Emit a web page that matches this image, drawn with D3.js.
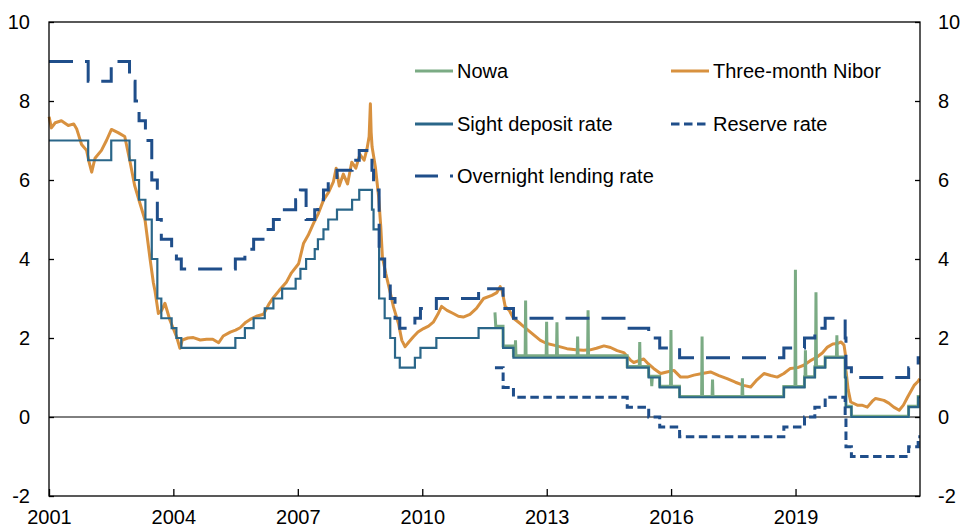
<!DOCTYPE html>
<html>
<head>
<meta charset="utf-8">
<title>Norwegian money market rates</title>
<style>
body { margin: 0; background: #fff; }
svg { display: block; }
text { font-family: "Liberation Sans", Arial, sans-serif; fill: #000; }
</style>
<script src="https://cdn.jsdelivr.net/npm/d3@7"></script>
</head>
<body>
<svg id="chart" width="961" height="528"></svg>
<script>
// policy rate corridor (step changes)
var sightDeposit = [
	["2001-01-01", 7.0], ["2001-12-12", 6.5], ["2002-07-03", 7.0], ["2002-12-11", 6.5],
	["2003-01-29", 6.0], ["2003-03-05", 5.5], ["2003-04-30", 5.0], ["2003-06-25", 4.0],
	["2003-08-13", 3.0], ["2003-09-17", 2.5], ["2003-12-17", 2.25], ["2004-01-28", 2.0],
	["2004-03-11", 1.75], ["2005-06-30", 2.0], ["2005-09-22", 2.25], ["2005-12-08", 2.5],
	["2006-03-16", 2.75], ["2006-05-31", 3.0], ["2006-08-16", 3.25], ["2006-12-13", 3.5],
	["2007-01-24", 3.75], ["2007-03-15", 4.0], ["2007-05-30", 4.25], ["2007-06-27", 4.5],
	["2007-08-15", 4.75], ["2007-09-26", 5.0], ["2007-12-12", 5.25], ["2008-04-23", 5.5],
	["2008-06-25", 5.75], ["2008-10-15", 5.25], ["2008-10-29", 4.75], ["2008-12-17", 3.0],
	["2009-02-04", 2.5], ["2009-03-25", 2.0], ["2009-05-06", 1.5], ["2009-06-17", 1.25],
	["2009-10-28", 1.5], ["2009-12-16", 1.75], ["2010-05-05", 2.0], ["2011-05-12", 2.25],
	["2011-12-14", 1.75], ["2012-03-14", 1.5], ["2014-12-11", 1.25], ["2015-06-18", 1.0],
	["2015-09-23", 0.75], ["2016-03-16", 0.5], ["2018-09-20", 0.75], ["2019-03-21", 1.0],
	["2019-06-20", 1.25], ["2019-09-19", 1.5], ["2020-03-13", 1.0], ["2020-03-20", 0.25],
	["2020-05-07", 0.0], ["2021-09-23", 0.25], ["2021-12-16", 0.5], ["2021-12-31", 0.5]
];

var overnightLending = [
	["2001-01-01", 9.0], ["2001-12-12", 8.5], ["2002-07-03", 9.0], ["2002-12-11", 8.5],
	["2003-01-29", 8.0], ["2003-03-05", 7.5], ["2003-04-30", 7.0], ["2003-06-25", 6.0],
	["2003-08-13", 5.0], ["2003-09-17", 4.5], ["2003-12-17", 4.25], ["2004-01-28", 4.0],
	["2004-03-11", 3.75], ["2005-06-30", 4.0], ["2005-09-22", 4.25], ["2005-12-08", 4.5],
	["2006-03-16", 4.75], ["2006-05-31", 5.0], ["2006-08-16", 5.25], ["2006-12-13", 5.5],
	["2007-01-24", 5.75], ["2007-03-15", 5.0], ["2007-05-30", 5.25], ["2007-06-27", 5.5],
	["2007-08-15", 5.75], ["2007-09-26", 6.0], ["2007-12-12", 6.25], ["2008-04-23", 6.5],
	["2008-06-25", 6.75], ["2008-10-15", 6.25], ["2008-10-29", 5.75], ["2008-12-17", 4.0],
	["2009-02-04", 3.5], ["2009-03-25", 3.0], ["2009-05-06", 2.5], ["2009-06-17", 2.25],
	["2009-10-28", 2.5], ["2009-12-16", 2.75], ["2010-05-05", 3.0], ["2011-05-12", 3.25],
	["2011-12-14", 2.75], ["2012-03-14", 2.5], ["2014-12-11", 2.25], ["2015-06-18", 2.0],
	["2015-09-23", 1.75], ["2016-03-16", 1.5], ["2018-09-20", 1.75], ["2019-03-21", 2.0],
	["2019-06-20", 2.25], ["2019-09-19", 2.5], ["2020-03-13", 2.0], ["2020-03-20", 1.25],
	["2020-05-07", 1.0], ["2021-09-23", 1.25], ["2021-12-16", 1.5], ["2021-12-31", 1.5]
];

var reserveRate = [
	["2011-10-03", 1.25], ["2011-12-14", 0.75], ["2012-03-14", 0.5], ["2014-12-11", 0.25],
	["2015-06-18", 0.0], ["2015-09-23", -0.25], ["2016-03-16", -0.5], ["2018-09-20", -0.25],
	["2019-03-21", 0.0], ["2019-06-20", 0.25], ["2019-09-19", 0.5], ["2020-03-13", 0.0],
	["2020-03-20", -0.75], ["2020-05-07", -1.0], ["2021-09-23", -0.75], ["2021-12-16", -0.5],
	["2021-12-31", -0.5]
];

// three-month Nibor
var nibor = [
	["2001-01-02", 7.6], ["2001-01-22", 7.32], ["2001-02-25", 7.45], ["2001-04-20", 7.5],
	["2001-06-20", 7.38], ["2001-08-07", 7.42], ["2001-09-01", 7.3], ["2001-10-15", 6.9],
	["2001-11-28", 6.75], ["2001-12-20", 6.45], ["2002-01-12", 6.2], ["2002-02-10", 6.55],
	["2002-04-08", 6.75], ["2002-05-22", 7.0], ["2002-07-05", 7.28], ["2002-09-01", 7.2],
	["2002-10-30", 7.1], ["2002-12-13", 6.5], ["2003-01-26", 5.85], ["2003-03-14", 5.4],
	["2003-04-27", 4.98], ["2003-06-10", 4.0], ["2003-07-09", 3.4], ["2003-07-23", 3.2],
	["2003-08-22", 2.62], ["2003-09-20", 2.7], ["2003-10-19", 2.88], ["2003-12-02", 2.45],
	["2004-01-30", 2.03], ["2004-02-28", 1.74], ["2004-03-20", 1.95], ["2004-05-08", 2.0],
	["2004-06-25", 2.01], ["2004-08-25", 1.95], ["2004-10-20", 1.97], ["2004-12-13", 1.97],
	["2005-02-03", 1.88], ["2005-03-15", 2.05], ["2005-05-16", 2.15], ["2005-07-02", 2.2],
	["2005-08-11", 2.26], ["2005-10-01", 2.4], ["2005-11-07", 2.47], ["2006-01-01", 2.55],
	["2006-03-05", 2.6], ["2006-04-20", 2.85], ["2006-05-30", 3.02], ["2006-07-20", 3.2],
	["2006-09-24", 3.42], ["2006-11-06", 3.65], ["2007-01-08", 3.88], ["2007-02-21", 4.4],
	["2007-04-02", 4.6], ["2007-05-19", 4.9], ["2007-07-01", 5.15], ["2007-08-15", 5.49],
	["2007-10-01", 5.7], ["2007-11-10", 5.95], ["2007-12-05", 6.3], ["2008-01-01", 5.85],
	["2008-02-06", 6.15], ["2008-03-14", 5.9], ["2008-04-20", 6.45], ["2008-05-26", 6.3],
	["2008-07-01", 6.65], ["2008-08-07", 6.5], ["2008-09-02", 6.8], ["2008-09-20", 7.1],
	["2008-10-01", 7.93], ["2008-10-08", 7.2], ["2008-10-16", 6.84], ["2008-11-14", 6.33],
	["2008-12-13", 5.57], ["2009-01-01", 4.8], ["2009-01-15", 4.05], ["2009-02-14", 3.63],
	["2009-03-25", 3.15], ["2009-04-23", 2.78], ["2009-06-06", 2.36], ["2009-07-05", 1.94],
	["2009-08-03", 1.78], ["2009-09-05", 1.9], ["2009-10-15", 2.03], ["2009-11-24", 2.15],
	["2010-01-12", 2.24], ["2010-02-25", 2.3], ["2010-04-08", 2.4], ["2010-05-18", 2.6],
	["2010-06-20", 2.8], ["2010-08-07", 2.7], ["2010-10-01", 2.62], ["2010-11-15", 2.55],
	["2010-12-28", 2.53], ["2011-02-25", 2.6], ["2011-04-23", 2.75], ["2011-06-25", 3.0],
	["2011-09-06", 3.08], ["2011-10-20", 3.15], ["2011-11-18", 3.3], ["2011-12-05", 3.2],
	["2012-01-01", 2.8], ["2012-02-06", 2.7], ["2012-03-14", 2.5], ["2012-05-15", 2.36],
	["2012-08-10", 2.15], ["2012-11-06", 1.94], ["2013-01-01", 1.86], ["2013-03-04", 1.82],
	["2013-06-28", 1.73], ["2013-09-13", 1.7], ["2013-11-21", 1.69], ["2014-01-19", 1.7],
	["2014-03-15", 1.74], ["2014-05-20", 1.8], ["2014-07-17", 1.76], ["2014-09-13", 1.68],
	["2014-11-10", 1.63], ["2015-01-08", 1.44], ["2015-02-06", 1.38], ["2015-05-05", 1.47],
	["2015-06-13", 1.35], ["2015-07-31", 1.23], ["2015-10-01", 1.1], ["2015-11-24", 1.14],
	["2016-01-26", 1.18], ["2016-03-25", 1.01], ["2016-05-23", 1.01], ["2016-07-20", 1.06],
	["2016-10-01", 1.1], ["2016-12-13", 1.14], ["2017-02-25", 1.05], ["2017-05-08", 0.97],
	["2017-07-20", 0.88], ["2017-10-01", 0.8], ["2017-12-02", 0.76], ["2018-01-19", 0.92],
	["2018-03-29", 1.1], ["2018-05-27", 1.05], ["2018-07-24", 1.01], ["2018-09-20", 1.1],
	["2018-11-17", 1.23], ["2019-01-19", 1.25], ["2019-03-14", 1.31], ["2019-05-08", 1.42],
	["2019-07-09", 1.52], ["2019-08-25", 1.62], ["2019-10-09", 1.77], ["2019-11-25", 1.85],
	["2020-01-04", 1.86], ["2020-02-06", 1.9], ["2020-03-03", 1.82], ["2020-03-14", 1.6],
	["2020-03-20", 1.18], ["2020-04-08", 0.7], ["2020-05-01", 0.38], ["2020-06-28", 0.3],
	["2020-08-07", 0.3], ["2020-09-24", 0.25], ["2020-11-07", 0.4], ["2020-12-06", 0.47],
	["2021-02-17", 0.42], ["2021-04-01", 0.35], ["2021-05-15", 0.25], ["2021-07-02", 0.17],
	["2021-08-08", 0.3], ["2021-09-13", 0.5], ["2021-11-10", 0.8], ["2021-12-14", 0.9],
	["2021-12-29", 0.97]
];

// Nowa (spikes included)
var nowa = [
	["2011-10-03", 2.65], ["2011-10-10", 2.3], ["2011-12-13", 2.3], ["2011-12-14", 1.8],
	["2012-03-13", 1.8], ["2012-03-14", 1.55], ["2012-03-28", 1.55], ["2012-04-01", 1.94],
	["2012-04-05", 1.55], ["2012-06-25", 1.55], ["2012-06-29", 2.95], ["2012-07-03", 1.55],
	["2012-12-27", 1.55], ["2012-12-31", 2.41], ["2013-01-04", 1.55], ["2013-03-28", 1.55],
	["2013-04-01", 2.4], ["2013-04-05", 1.55], ["2013-09-26", 1.55], ["2013-09-30", 2.04],
	["2013-10-04", 1.55], ["2013-12-27", 1.55], ["2013-12-31", 2.7], ["2014-01-04", 1.55],
	["2014-12-10", 1.55], ["2014-12-11", 1.28], ["2015-03-27", 1.28], ["2015-03-31", 1.9],
	["2015-04-04", 1.28], ["2015-06-17", 1.28], ["2015-06-18", 1.03], ["2015-07-10", 1.03],
	["2015-07-15", 0.78], ["2015-07-20", 1.03], ["2015-09-22", 1.03], ["2015-09-23", 0.78],
	["2015-12-27", 0.78], ["2015-12-31", 2.2], ["2016-01-04", 0.78], ["2016-03-15", 0.78],
	["2016-03-16", 0.52], ["2016-09-26", 0.52], ["2016-09-30", 2.04], ["2016-10-04", 0.52],
	["2016-12-27", 0.52], ["2016-12-31", 0.95], ["2017-01-04", 0.52], ["2017-09-16", 0.52],
	["2017-09-20", 0.98], ["2017-09-24", 0.52], ["2018-09-19", 0.52], ["2018-09-20", 0.77],
	["2018-12-27", 0.77], ["2018-12-31", 3.73], ["2019-01-04", 0.77], ["2019-03-20", 0.77],
	["2019-03-21", 1.02], ["2019-03-26", 1.02], ["2019-03-29", 1.69], ["2019-04-02", 1.02],
	["2019-06-19", 1.02], ["2019-06-20", 1.27], ["2019-06-26", 1.27], ["2019-06-30", 3.16],
	["2019-07-04", 1.27], ["2019-09-18", 1.27], ["2019-09-19", 1.52], ["2019-12-27", 1.52],
	["2019-12-31", 2.07], ["2020-01-04", 1.52], ["2020-03-12", 1.52], ["2020-03-13", 1.02],
	["2020-03-19", 1.02], ["2020-03-20", 0.27], ["2020-05-06", 0.27], ["2020-05-07", 0.02],
	["2021-09-22", 0.02], ["2021-09-23", 0.27], ["2021-12-15", 0.27], ["2021-12-16", 0.52],
	["2021-12-31", 0.52]
];

var yTickValues = [-2, 0, 2, 4, 6, 8, 10];
var xTickYears = [2001, 2004, 2007, 2010, 2013, 2016, 2019];

var seriesNames = ["Nowa", "Three-month Nibor", "Sight deposit rate", "Reserve rate", "Overnight lending rate"];
var colors = {
	nowa: "#7bab84",
	nibor: "#d8913f",
	sight: "#2a6689",
	dark: "#1f4e8a"
};

function drawChart () {
	var svg = d3.select("#chart");
	var plotLeft = 49, plotRight = 920, plotTop = 22, plotBottom = 496;

	var parse = d3.timeParse("%Y-%m-%d");
	var x = d3.scaleTime()
		.domain([new Date(2001, 0, 1), new Date(2022, 0, 1)])
		.range([plotLeft, plotRight]);
	var y = d3.scaleLinear().domain([-2, 10]).range([plotBottom, plotTop]);

	function toPoints(arr) {
		return arr.map(function (d) { return { date: parse(d[0]), value: d[1] }; });
	}

	var stepLine = d3.line()
		.curve(d3.curveStepAfter)
		.x(function (d) { return x(d.date); })
		.y(function (d) { return y(d.value); });

	var plainLine = d3.line()
		.x(function (d) { return x(d.date); })
		.y(function (d) { return y(d.value); });

	// zero line
	svg.append("line")
		.attr("x1", plotLeft).attr("x2", plotRight)
		.attr("y1", y(0)).attr("y2", y(0))
		.attr("stroke", "#000").attr("stroke-width", 1);

	var plot = svg.append("g").attr("fill", "none");

	plot.append("path")
		.attr("d", plainLine(toPoints(nibor)))
		.attr("stroke", colors.nibor).attr("stroke-width", 3)
		.attr("stroke-linejoin", "round");

	plot.append("path")
		.attr("d", plainLine(toPoints(nowa)))
		.attr("stroke", colors.nowa).attr("stroke-width", 3);

	plot.append("path")
		.attr("d", stepLine(toPoints(sightDeposit)))
		.attr("stroke", colors.sight).attr("stroke-width", 2.2);

	plot.append("path")
		.attr("d", stepLine(toPoints(reserveRate)))
		.attr("stroke", colors.dark).attr("stroke-width", 3)
		.attr("stroke-dasharray", "8.5,4.5");

	plot.append("path")
		.attr("d", stepLine(toPoints(overnightLending)))
		.attr("stroke", colors.dark).attr("stroke-width", 3)
		.attr("stroke-dasharray", "24,12");

	// frame
	svg.append("rect")
		.attr("x", plotLeft).attr("y", plotTop)
		.attr("width", plotRight - plotLeft).attr("height", plotBottom - plotTop)
		.attr("fill", "none").attr("stroke", "#000").attr("stroke-width", 1.3);

	// axes (plain hyphen for negatives, as in the original)
	var numberFormat = function (d) { return String(d); };
	var leftAxis = d3.axisLeft(y).tickValues(yTickValues).tickSize(-5).tickPadding(19).tickFormat(numberFormat);
	var rightAxis = d3.axisRight(y).tickValues(yTickValues).tickSize(-5).tickPadding(18).tickFormat(numberFormat);
	var bottomAxis = d3.axisBottom(x)
		.tickValues(xTickYears.map(function (yr) { return new Date(yr, 0, 1); }))
		.tickSize(-7).tickPadding(14)
		.tickFormat(d3.timeFormat("%Y"));

	function styleAxis(g) {
		g.select(".domain").remove();
		g.selectAll(".tick line").attr("stroke", "#000").attr("stroke-width", 1.3);
		g.selectAll(".tick text")
			.attr("font-size", 20)
			.attr("font-family", "'Liberation Sans', Arial, sans-serif")
			.attr("fill", "#000");
	}

	svg.append("g").attr("transform", "translate(" + plotLeft + ",0)").call(leftAxis).call(styleAxis);
	svg.append("g").attr("transform", "translate(" + plotRight + ",0)").call(rightAxis).call(styleAxis);
	svg.append("g").attr("transform", "translate(0," + plotBottom + ")").call(bottomAxis).call(styleAxis);

	// legend
	var legendItems = [
		{ name: seriesNames[0], x: 415, y: 71, color: colors.nowa, dash: null },
		{ name: seriesNames[1], x: 671, y: 71, color: colors.nibor, dash: null },
		{ name: seriesNames[2], x: 415, y: 124, color: colors.sight, dash: null },
		{ name: seriesNames[3], x: 671, y: 124, color: colors.dark, dash: "8.5,4.5" },
		{ name: seriesNames[4], x: 415, y: 176, color: colors.dark, dash: "23,12,3,100" }
	];

	var legend = svg.append("g").selectAll("g").data(legendItems).enter().append("g")
		.attr("transform", function (d) { return "translate(" + d.x + "," + d.y + ")"; });

	legend.append("line")
		.attr("x1", 0).attr("x2", 38)
		.attr("stroke", function (d) { return d.color; })
		.attr("stroke-width", 3)
		.attr("stroke-dasharray", function (d) { return d.dash; });

	legend.append("text")
		.attr("x", 42).attr("dy", "0.35em")
		.attr("font-size", 20)
		.text(function (d) { return d.name; });
}

drawChart();
</script>
</body>
</html>
